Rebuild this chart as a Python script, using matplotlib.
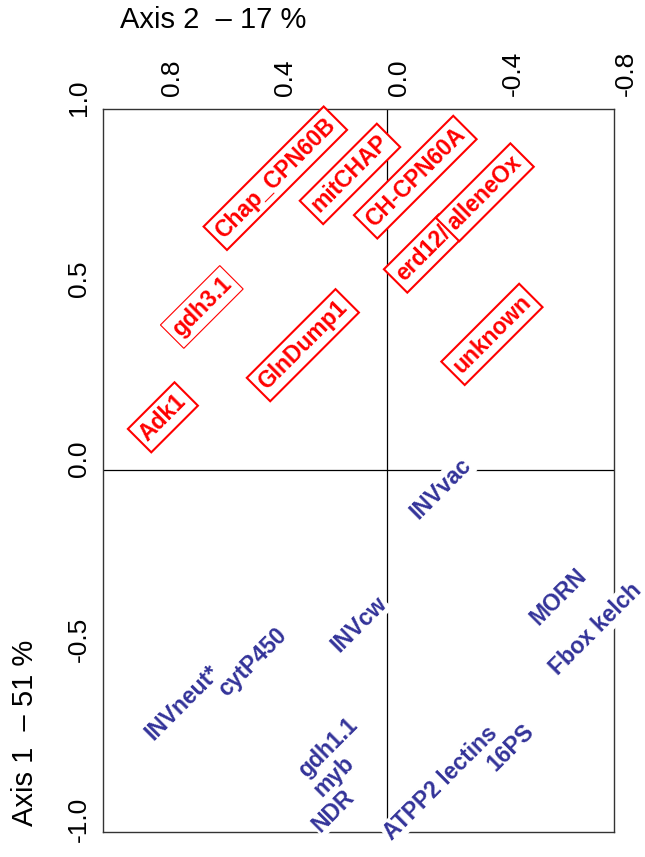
import matplotlib
matplotlib.use("Agg")
import matplotlib.pyplot as plt
import matplotlib.transforms as mtransforms

# --- data (Axis 2 = x, Axis 1 = y) ---
red_labels = ["Chap_CPN60B", "mitCHAP", "CH-CPN60A", "erd12/", "alleneOx",
              "gdh3.1", "GlnDump1", "Adk1", "unknown"]
red_x = [0.393, 0.130, -0.100, -0.127, -0.345, 0.652, 0.296, 0.789, -0.370]
red_y = [0.808, 0.820, 0.811, 0.599, 0.769, 0.451, 0.345, 0.145, 0.375]

blue_labels = ["INVvac", "MORN", "Fbox kelch", "INVcw", "INVneut*", "cytP450",
               "gdh1.1", "myb", "NDR", "16PS", "ATPP2 lectins"]
blue_x = [-0.19, -0.606, -0.737, 0.099, 0.719, 0.472, 0.208, 0.187, 0.19, -0.437, -0.19]
blue_y = [-0.053, -0.354, -0.443, -0.429, -0.646, -0.535, -0.772, -0.850, -0.947, -0.772, -0.869]

x_ticks = [0.8, 0.4, 0.0, -0.4, -0.8]
y_ticks = [1.0, 0.5, 0.0, -0.5, -1.0]

AXFONT = ["Liberation Sans", "DejaVu Sans"]
BOLD = ["Liberation Sans", "DejaVu Sans"]
RED = "#ff0000"
BLUE = "#333399"

fig = plt.figure(figsize=(6.45, 8.57), dpi=100)
ax = fig.add_axes([103 / 645, 1 - 832 / 857, (614 - 103) / 645, (832 - 109) / 857])
ax.set_xlim(1.0, -0.80)
ax.set_ylim(-1.005, 1.0)

for s in ax.spines.values():
    s.set_color("#333333")
    s.set_linewidth(1.0)

ax.axhline(0, color="black", lw=0.9, zorder=1)
ax.axvline(0, color="black", lw=0.9, zorder=1)

# ticks: labels on top and left, rotated, no marks
ax.xaxis.tick_top()
ax.set_xticks(x_ticks)
ax.set_xticklabels([f"{v:.1f}" for v in x_ticks], rotation=90, family=AXFONT, fontsize=19)
ax.set_yticks(y_ticks)
ax.set_yticklabels([f"{v:.1f}" for v in y_ticks], rotation=90, va="center",
                   family=AXFONT, fontsize=19)
ax.tick_params(length=0, pad=9)

dx = mtransforms.ScaledTranslation(12 / 100, 0, fig.dpi_scale_trans)
for lbl in ax.get_xticklabels():
    lbl.set_transform(lbl.get_transform() + dx)
dy = mtransforms.ScaledTranslation(0, 11 / 100, fig.dpi_scale_trans)
for lbl in ax.get_yticklabels():
    lbl.set_transform(lbl.get_transform() + dy)

# red boxed labels
for lab, x, y in zip(red_labels, red_x, red_y):
    lw = 0.8 if lab == "gdh3.1" else 1.5
    ax.text(x, y, lab, color=RED, fontsize=16.5, fontweight="bold", family=BOLD,
            rotation=45, ha="center", va="center", rotation_mode="anchor", zorder=3,
            bbox=dict(boxstyle="square,pad=0.22", fc="white", ec=RED, lw=lw))

# blue labels on white background
for lab, x, y in zip(blue_labels, blue_x, blue_y):
    ax.text(x, y, lab, color=BLUE, fontsize=16.5, fontweight="bold", family=BOLD,
            rotation=45, ha="center", va="center", rotation_mode="anchor", zorder=3,
            bbox=dict(boxstyle="square,pad=0.05", fc="white", ec="none"), clip_on=False)

fig.text(120 / 645, 1 - 20 / 857, "Axis 2  \u2013 17 %", family=AXFONT, fontsize=21,
         ha="left", va="center")
fig.text(25 / 645, 1 - 733 / 857, "Axis 1  \u2013 51 %", family=AXFONT, fontsize=21,
         rotation=90, ha="center", va="center")

fig.savefig("out.png", dpi=100)
